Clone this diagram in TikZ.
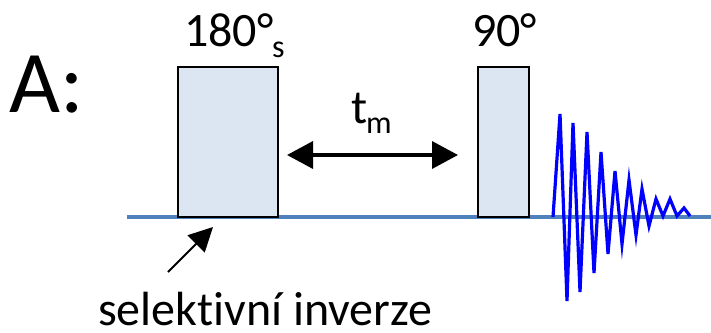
\documentclass[tikz,border=0pt]{standalone}
\usepackage{fontspec}
\setmainfont[Ligatures=NoCommon]{Carlito}
\usetikzlibrary{arrows.meta}
\definecolor{boxfill}{HTML}{DCE6F2}
\definecolor{axisblue}{HTML}{4F81BD}
\begin{document}
\begin{tikzpicture}[x=1pt,y=-1pt,
  pulse/.style={draw=black,line width=1.8pt,fill=boxfill},
  lbl/.style={inner sep=0pt,anchor=base west,font=\fontsize{48}{50}\selectfont},
  sublbl/.style={inner sep=0pt,anchor=base west,font=\fontsize{32}{34}\selectfont},
  bigarrow/.style={line width=3.5pt,{Triangle[length=26pt,width=27pt]}-{Triangle[length=26pt,width=27pt]}},
  smallarrow/.style={line width=2pt,-{Triangle[length=24pt,width=24pt]}},
  fid/.style={draw=blue,line width=3.2pt,line join=miter}]
\useasboundingbox (0,0) rectangle (711,332);
% axis
\coordinate (axL) at (127,217);
\coordinate (axR) at (711,217);
\draw[axisblue,line width=4pt] (axL) -- (axR);
% pulses
\draw[pulse] (178,67) rectangle (278,217);
\node[inner sep=0pt] (p180) at (228,142) {};
\draw[pulse] (478,67) rectangle (529,217);
\node[inner sep=0pt] (p90) at (503.5,142) {};
% labels
\node[inner sep=0pt,anchor=base west,font=\fontsize{88}{90}\selectfont] (A) at (9,112) {A:};
\node[lbl] (l180) at (184,46) {180°};
\node[sublbl] (ls) at (272,57) {s};
\node[lbl] (l90) at (472,46) {90°};
\node[lbl] (lt) at (351,123) {t};
\node[sublbl] (lm) at (366,133) {m};
\node[lbl,text depth=0pt] (lsel) at (98,325) {selektivní inverze};
% arrows
\coordinate (tmL) at (287,155);
\coordinate (tmR) at (458,155);
\draw[bigarrow] (tmL) -- (tmR);
\coordinate (selS) at (168,272);
\coordinate (selE) at (213,227);
\draw[smallarrow] (selS) -- (selE);
% FID
\draw[fid] (553,217) -- (560,114) -- (567,301) -- (573,123) -- (580,292) -- (587,132)
  -- (594,273) -- (601,152) -- (608,254) -- (615,171) -- (622,244) -- (629,180)
  -- (636,235) -- (642,189) -- (649,226) -- (656,199) -- (663,216) -- (670,199)
  -- (677,216) -- (684,208) -- (690,216);
\end{tikzpicture}
\end{document}
